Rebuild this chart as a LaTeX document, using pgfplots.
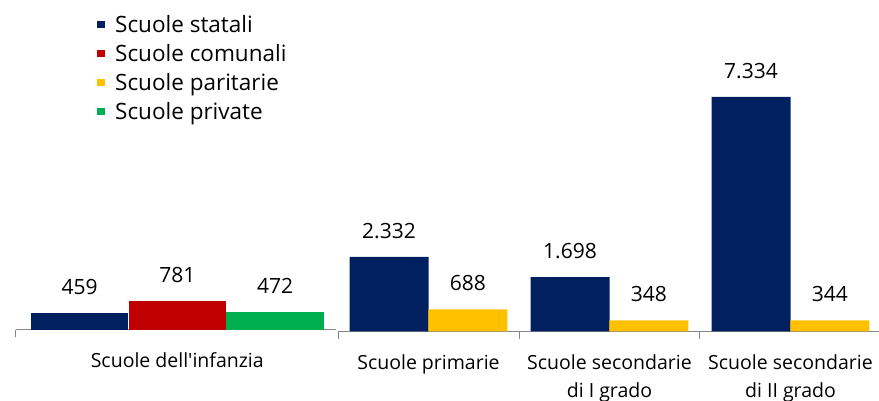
\documentclass[border=0pt]{standalone}
\usepackage{pgfplots}
\pgfplotsset{compat=1.18}
\usepackage{fontspec}
\setmainfont{Open Sans}
\newfontfamily\plainfont{Open Sans}
\definecolor{cStat}{RGB}{0,32,96}
\definecolor{cCom}{RGB}{192,0,0}
\definecolor{cPar}{RGB}{255,192,0}
\definecolor{cPriv}{RGB}{0,176,80}
\definecolor{cAx}{RGB}{134,134,134}
\newcommand{\lblfont}{\fontsize{19.5}{28}\selectfont}
\newcommand{\valfont}{\fontsize{21}{25}\selectfont}
\begin{document}
\begin{tikzpicture}
\path[use as bounding box] (0pt,0pt) rectangle (879pt,401pt);
\pgfplotsset{
  myaxis/.style={
    scale only axis, ymin=0, clip=false,
    axis y line=none, axis x line=bottom,
    x axis line style={-, draw=cAx, line width=1pt},
    tick style={draw=cAx, line width=1pt},
    major tick length=0pt, tick align=outside,
    ytick=\empty,
    xticklabel style={font=\lblfont, align=center, anchor=north, inner sep=0pt, yshift=-22.5pt},
    extra x tick labels={},
    extra x tick style={major tick length=7.5pt},
    ybar,
    /pgf/number format/assume math mode=true,
    nodes near coords={\pgfmathprintnumber[1000 sep={.}]{\pgfplotspointmeta}},
    every node near coord/.append style={font=\valfont, text=black, inner sep=0pt, anchor=south, yshift=18.4pt},
  },
}
% Panel 1
\begin{axis}[myaxis,
  at={(16pt,71pt)}, anchor=south west,
  width=320pt, height=29pt, ymax=781,
  xmin=-0.65, xmax=2.624,
  bar width=0.995,
  xtick={1}, xticklabels={Scuole dell{\plainfont'}infanzia},
  extra x ticks={-0.65},
  legend style={at={(0.253,10.86)}, anchor=north west, draw=none, fill=none,
    font=\fontsize{22.5}{28}\selectfont, inner sep=0pt,
    nodes={inner sep=0pt, text height=17pt, text depth=5pt},
    row sep=7pt, column sep=10pt},
  legend cell align=left,
  legend image code/.code={\fill[#1] (0pt,-1.75pt) rectangle (8pt,5.75pt);},
]
\addplot[fill=cStat, draw=none, bar shift=0] coordinates {(0,459)};
\addlegendentry{Scuole statali}
\addplot[fill=cCom, draw=none, bar shift=0] coordinates {(1,781)};
\addlegendentry{Scuole comunali}
\addlegendimage{fill=cPar, draw=none}
\addlegendentry{Scuole paritarie}
\addplot[fill=cPriv, draw=none, bar shift=0] coordinates {(2,472)};
\addlegendentry{Scuole private}
\end{axis}
% Panel 2
\begin{axis}[myaxis,
  at={(338pt,69.5pt)}, anchor=south west,
  width=541pt, height=234.5pt, ymax=7334,
  xmin=-0.5, xmax=2.489,
  bar width=0.4365,
  xtick={0,1,2},
  xticklabels={Scuole primarie, {Scuole secondarie\\di I grado}, {Scuole secondarie\\di II grado}},
  extra x ticks={-0.5,0.5,1.5},
]
\addplot[fill=cStat, draw=none, bar shift=-0.218] coordinates {(0,2332) (1,1698) (2,7334)};
\addplot[fill=cPar, draw=none, bar shift=0.218] coordinates {(0,688) (1,348) (2,344)};
\end{axis}
\end{tikzpicture}
\end{document}
